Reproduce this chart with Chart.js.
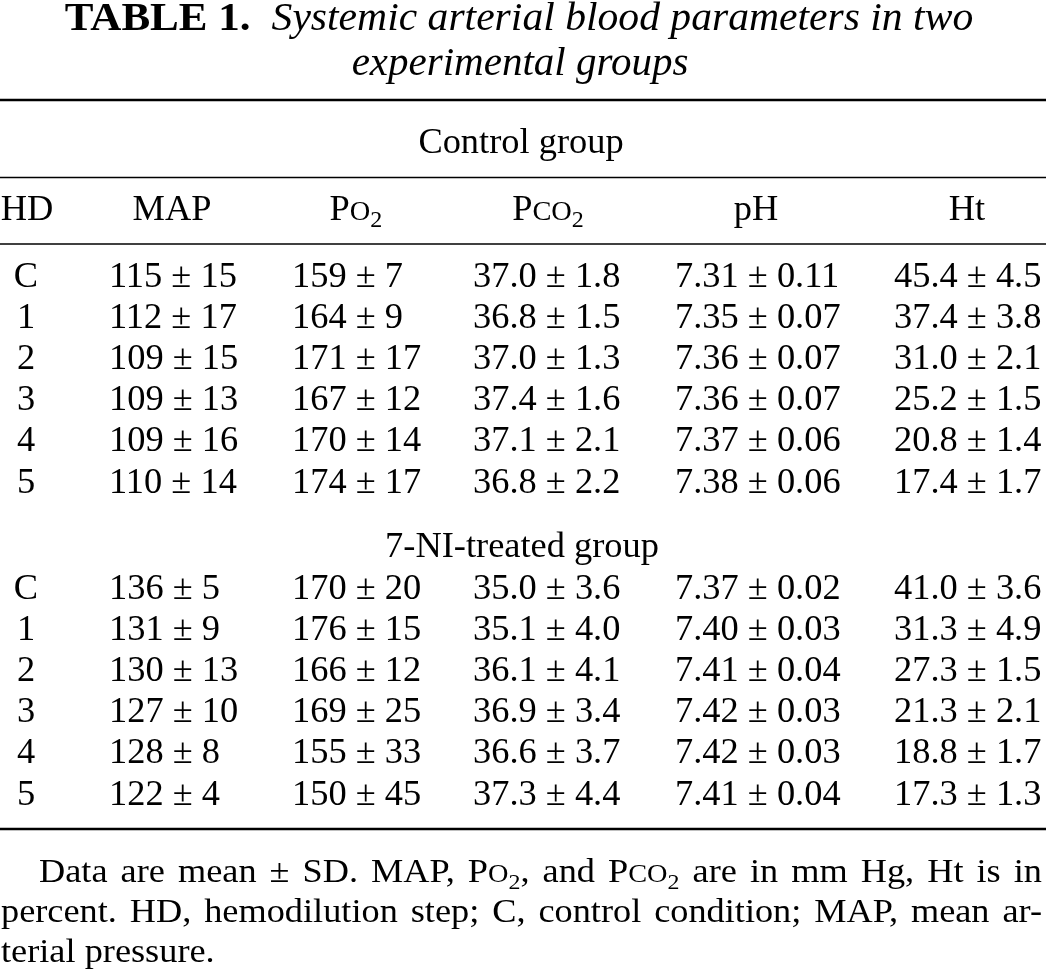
<!DOCTYPE html>
<html>
<head>
<meta charset="utf-8">
<title>Table 1</title>
<script src="https://cdn.jsdelivr.net/npm/chart.js@4.4.1/dist/chart.umd.min.js"></script>
<style>
  html, body { margin: 0; padding: 0; background: #ffffff; }
  canvas { display: block; }
</style>
</head>
<body>
<canvas id="tableChart" width="1046" height="972"></canvas>
<script>
// ---- table data (mean and SD per column) ----
const hdSteps = ["C", "1", "2", "3", "4", "5"];

const controlMap = [115, 112, 109, 109, 109, 110];
const controlMapSd = [15, 17, 15, 13, 16, 14];
const controlPo2 = [159, 164, 171, 167, 170, 174];
const controlPo2Sd = [7, 9, 17, 12, 14, 17];
const controlPco2 = [37.0, 36.8, 37.0, 37.4, 37.1, 36.8];
const controlPco2Sd = [1.8, 1.5, 1.3, 1.6, 2.1, 2.2];
const controlPh = [7.31, 7.35, 7.36, 7.36, 7.37, 7.38];
const controlPhSd = [0.11, 0.07, 0.07, 0.07, 0.06, 0.06];
const controlHt = [45.4, 37.4, 31.0, 25.2, 20.8, 17.4];
const controlHtSd = [4.5, 3.8, 2.1, 1.5, 1.4, 1.7];

const treatedMap = [136, 131, 130, 127, 128, 122];
const treatedMapSd = [5, 9, 13, 10, 8, 4];
const treatedPo2 = [170, 176, 166, 169, 155, 150];
const treatedPo2Sd = [20, 15, 12, 25, 33, 45];
const treatedPco2 = [35.0, 35.1, 36.1, 36.9, 36.6, 37.3];
const treatedPco2Sd = [3.6, 4.0, 4.1, 3.4, 3.7, 4.4];
const treatedPh = [7.37, 7.40, 7.41, 7.42, 7.42, 7.41];
const treatedPhSd = [0.02, 0.03, 0.04, 0.03, 0.03, 0.04];
const treatedHt = [41.0, 31.3, 27.3, 21.3, 18.8, 17.3];
const treatedHtSd = [3.6, 4.9, 1.5, 2.1, 1.7, 1.3];

const groupNames = ["Control group", "7-NI-treated group"];

// header labels as text runs (sc = small caps, sub = subscript)
const headerRuns = [
    [{ t: "HD" }],
    [{ t: "MAP" }],
    [{ t: "P" }, { t: "O", sc: true }, { t: "2", sub: true }],
    [{ t: "P" }, { t: "CO", sc: true }, { t: "2", sub: true }],
    [{ t: "pH" }],
    [{ t: "Ht" }],
];
const columnDecimals = [0, 0, 1, 2, 1];

const titleLabel = "TABLE 1.";
const titleLine1 = "Systemic arterial blood parameters in two";
const titleLine2 = "experimental groups";

// footnote, word by word
const footLines = [
    "Data are mean ± SD. MAP, Po₂, and Pco₂ are in mm Hg, Ht is in",
    "percent. HD, hemodilution step; C, control condition; MAP, mean ar-",
    "terial pressure.",
];

// ---- layout ----
const W = 1046;
const H = 972;
const SERIF = "'Liberation Serif', 'Times New Roman', serif";
const BODY = 35;
const BODY_X = 1.04;
const FOOT = 33;
const FOOT_X = 1.1;
const TITLE = 41;
const headerCenters = [27, 172, 356, 548, 756, 967];
const valueLeft = [109, 292, 473, 675, 894];
const hdCenter = 26;
const groupRowStart = [287, 599];
const rowStep = 41.1;

function fmt(mean, sd, d) {
    return mean.toFixed(d) + " ± " + sd.toFixed(d);
}

function groupCells(maps, mapSd, po2, po2Sd, pco2, pco2Sd, ph, phSd, ht, htSd) {
    const cols = [[maps, mapSd], [po2, po2Sd], [pco2, pco2Sd], [ph, phSd], [ht, htSd]];
    return hdSteps.map((_, r) => cols.map((c, k) => fmt(c[0][r], c[1][r], columnDecimals[k])));
}

const groups = [
    groupCells(controlMap, controlMapSd, controlPo2, controlPo2Sd, controlPco2, controlPco2Sd,
        controlPh, controlPhSd, controlHt, controlHtSd),
    groupCells(treatedMap, treatedMapSd, treatedPo2, treatedPo2Sd, treatedPco2, treatedPco2Sd,
        treatedPh, treatedPhSd, treatedHt, treatedHtSd),
];

// turn "Po₂" style words into runs
function wordRuns(word) {
    const m = word.match(/^P(o|co)₂(.*)$/);
    if (!m) return [{ t: word }];
    return [{ t: "P" }, { t: m[1].toUpperCase(), sc: true }, { t: "2", sub: true }, { t: m[2] }];
}

function runFont(run, size, style) {
    let s = size;
    if (run.sc) s = size * 0.78;
    if (run.sub) s = size * 0.66;
    return (style || "normal") + " " + s + "px " + SERIF;
}

function runsWidth(ctx, runs, size, hs, style) {
    let w = 0;
    runs.forEach(run => {
        ctx.font = runFont(run, size, style);
        w += ctx.measureText(run.t).width;
    });
    return w * hs;
}

// draws runs left-aligned at x, squeezed/stretched by hs
function drawRuns(ctx, runs, x, y, size, hs, style) {
    ctx.save();
    ctx.translate(x, y);
    ctx.scale(hs, 1);
    ctx.textAlign = "left";
    let cx = 0;
    runs.forEach(run => {
        ctx.font = runFont(run, size, style);
        const dy = run.sub ? size * 0.2 : 0;
        ctx.fillText(run.t, cx, dy);
        cx += ctx.measureText(run.t).width;
    });
    ctx.restore();
}

function drawText(ctx, text, x, y, size, hs, style, align) {
    const runs = [{ t: text }];
    let x0 = x;
    if (align === "center") x0 = x - runsWidth(ctx, runs, size, hs, style) / 2;
    drawRuns(ctx, runs, x0, y, size, hs, style);
}

const tablePlugin = {
    id: "tableText",
    afterDraw(chart) {
        const ctx = chart.ctx;
        const sx = v => chart.scales.x.getPixelForValue(v);
        const sy = v => chart.scales.y.getPixelForValue(v);

        ctx.save();
        ctx.fillStyle = "#000000";
        ctx.strokeStyle = "#000000";
        ctx.textBaseline = "alphabetic";

        // title
        const wLabel = runsWidth(ctx, [{ t: titleLabel }], TITLE, 1.05, "bold");
        const wLine1 = runsWidth(ctx, [{ t: titleLine1 }], TITLE, 1.015, "italic");
        const gap = 21;
        const x0 = sx(519) - (wLabel + gap + wLine1) / 2;
        drawText(ctx, titleLabel, x0, sy(30), TITLE, 1.05, "bold", "left");
        drawText(ctx, titleLine1, x0 + wLabel + gap, sy(30), TITLE, 1.015, "italic", "left");
        drawText(ctx, titleLine2, sx(520), sy(75), TITLE, 1.0, "italic", "center");

        // rules
        const rule = (y, lw) => {
            ctx.lineWidth = lw;
            ctx.beginPath();
            ctx.moveTo(sx(0), sy(y));
            ctx.lineTo(sx(W), sy(y));
            ctx.stroke();
        };
        rule(100, 2.4);
        rule(177.5, 1.3);
        rule(244, 1.3);
        rule(829, 2.4);

        // group labels
        drawText(ctx, groupNames[0], sx(521), sy(153), BODY, BODY_X, "normal", "center");
        drawText(ctx, groupNames[1], sx(522), sy(557), BODY, BODY_X, "normal", "center");

        // header
        headerRuns.forEach((runs, i) => {
            const w = runsWidth(ctx, runs, BODY, BODY_X);
            drawRuns(ctx, runs, sx(headerCenters[i]) - w / 2, sy(220), BODY, BODY_X);
        });

        // rows
        groups.forEach((rows, g) => {
            rows.forEach((cells, r) => {
                const y = sy(groupRowStart[g] + r * rowStep);
                drawText(ctx, hdSteps[r], sx(hdCenter), y, BODY, BODY_X, "normal", "center");
                cells.forEach((txt, k) => drawText(ctx, txt, sx(valueLeft[k]), y, BODY, BODY_X, "normal", "left"));
            });
        });

        // footnote, justified
        const footBase = [882, 922, 962];
        const footLeft = [39, 1, 1];
        const footRight = 1042;
        footLines.forEach((line, i) => {
            const words = line.split(" ").map(wordRuns);
            const widths = words.map(w => runsWidth(ctx, w, FOOT, FOOT_X));
            let space = runsWidth(ctx, [{ t: " " }], FOOT, FOOT_X);
            const total = widths.reduce((a, b) => a + b, 0);
            if (i < footLines.length - 1) {
                space = (sx(footRight) - sx(footLeft[i]) - total) / (words.length - 1);
            }
            let x = sx(footLeft[i]);
            words.forEach((w, j) => {
                drawRuns(ctx, w, x, sy(footBase[i]), FOOT, FOOT_X);
                x += widths[j] + space;
            });
        });

        ctx.restore();
    }
};

new Chart(document.getElementById("tableChart"), {
    type: "scatter",
    data: { datasets: [] },
    options: {
        responsive: false,
        animation: false,
        layout: { padding: 0 },
        plugins: {
            legend: { display: false },
            tooltip: { enabled: false },
        },
        scales: {
            x: { type: "linear", min: 0, max: W, display: false },
            y: { type: "linear", min: 0, max: H, reverse: true, display: false },
        },
    },
    plugins: [tablePlugin],
});
</script>
</body>
</html>
